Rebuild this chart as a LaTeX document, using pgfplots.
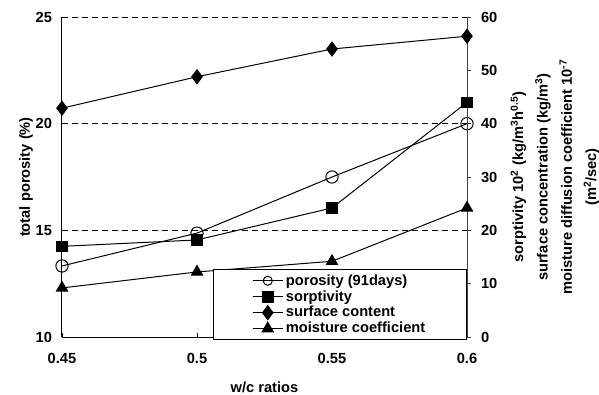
\documentclass[border=0pt]{standalone}
\usepackage{fontspec}
\setmainfont{Liberation Sans}
\usepackage{pgfplots}
\pgfplotsset{compat=1.18}
\newcommand{\cf}{\fontsize{11}{13}\selectfont\bfseries}
\begin{document}
\begin{tikzpicture}[x=1pt,y=1pt]
\useasboundingbox (-46.5,-42.75) rectangle (402.75,252.75);
\pgfplotsset{
  every axis/.append style={
    scale only axis, width=303.75pt, height=240pt,
    xmin=0.45, xmax=0.6,
    font=\cf,
    /pgf/number format/assume math mode=true,
    tick label style={font=\cf},
    axis line style={-, line width=0.75pt},
  },
}
\begin{axis}[
  ymin=10, ymax=25,
  axis x line*=bottom, axis y line*=left,
  xtick={0.45,0.5,0.55,0.6},
  xticklabels={0.45,0.5,0.55,0.6},
  ytick={10,15,20,25},
  tick align=inside,
  major tick length=3pt,
  xtick style={black, line width=0.6pt},
  ytick style={draw=none},
  ymajorgrids,
  major grid style={black, line width=0.6pt, dash pattern=on 4.5pt off 3pt},
  xticklabel style={yshift=-9pt},
  yticklabel style={xshift=-4pt},
  xlabel={w/c ratios},
  ylabel={total porosity (\%)},
  every axis x label/.style={at={(rel axis cs:0.5,0)}, anchor=center, yshift=-38pt},
  every axis y label/.style={at={(rel axis cs:0,0.5)}, anchor=center, xshift=-27pt, rotate=90},
]
\addplot[black, line width=0.75pt, mark=o, mark size=4.6pt, mark options={fill=white, line width=0.75pt}]
  coordinates {(0.45,13.33)(0.5,14.87)(0.55,17.5)(0.6,20.0)};
\end{axis}
\begin{axis}[
  ymin=0, ymax=60,
  clip=false,
  hide x axis,
  axis y line*=right,
  axis line style={black!75},
  ytick={0,10,20,30,40,50,60},
  tick align=outside,
  major tick length=3pt,
  ytick style={black!75, line width=0.6pt},
  yticklabel style={xshift=4pt},
  legend style={at={(rel axis cs:1,0)}, anchor=south east, yshift=-2.25pt,
    draw=black, line width=0.6pt, fill=white, inner xsep=29pt, inner ysep=1.5pt,
    row sep=-1.5pt, font=\cf},
  legend cell align=left,
  legend image code/.code={\draw[#1, mark repeat=2, mark phase=2] plot coordinates {(0pt,0pt)(11.25pt,0pt)(22.5pt,0pt)};},
]
\addlegendimage{black, line width=0.75pt, mark=o, mark size=3.4pt, mark options={fill=white, line width=0.75pt}}
\addlegendentry{porosity (91days)}
\addplot[black, line width=0.75pt, mark=square*, mark size=4pt]
  coordinates {(0.45,17.0)(0.5,18.2)(0.55,24.2)(0.6,44.0)};
\addlegendentry{sorptivity}
\addplot[black, line width=0.75pt, mark=diamond*, mark size=5.2pt]
  coordinates {(0.45,42.9)(0.5,48.8)(0.55,54.0)(0.6,56.4)};
\addlegendentry{surface content}
\addplot[black, line width=0.75pt, mark=triangle*, mark size=4.8pt]
  coordinates {(0.45,9.2)(0.5,12.2)(0.55,14.2)(0.6,24.2)};
\addlegendentry{moisture coefficient}
\node[anchor=center, rotate=90, align=center, font=\fontsize{11}{18.25}\selectfont\bfseries]
  at ([xshift=66pt]rel axis cs:1,0.5)
  {sorptivity 10\textsuperscript{2} (kg/m\textsuperscript{3}h\textsuperscript{0.5})\\
   surface concentration (kg/m\textsuperscript{3})\\
   moisture diffusion coefficient 10\textsuperscript{-7}\\
   (m\textsuperscript{2}/sec)};
\end{axis}
\end{tikzpicture}
\end{document}
